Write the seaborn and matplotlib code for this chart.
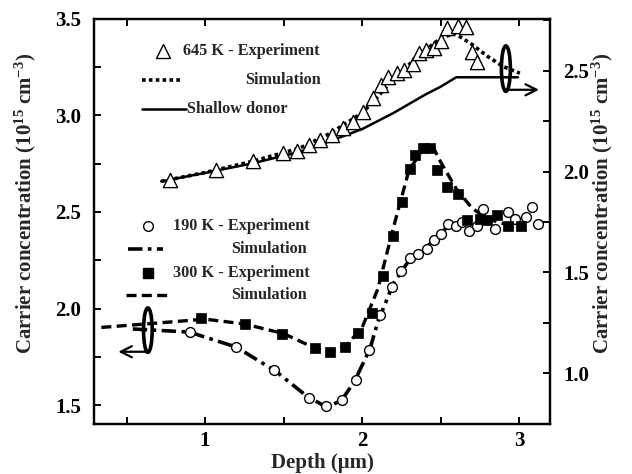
import numpy as np
import pandas as pd
import matplotlib
matplotlib.use("Agg")
import matplotlib.pyplot as plt
import seaborn as sns
from matplotlib.patches import Ellipse
from matplotlib.lines import Line2D
from matplotlib.ticker import MultipleLocator

# ---------------- data ----------------
# 645 K (right axis)
x645_exp = [0.776, 1.073, 1.303, 1.494, 1.583, 1.663, 1.731, 1.806, 1.876, 1.944,
            2.007, 2.067, 2.120, 2.166, 2.220, 2.266, 2.326, 2.364, 2.407, 2.459,
            2.500, 2.538, 2.612, 2.661, 2.698, 2.730]
y645_exp = [1.959, 2.008, 2.050, 2.094, 2.103, 2.129, 2.157, 2.182, 2.215, 2.247,
            2.297, 2.363, 2.429, 2.470, 2.487, 2.503, 2.532, 2.586, 2.602, 2.614,
            2.649, 2.710, 2.721, 2.718, 2.594, 2.545]
x645_sim = [0.72, 1.0, 1.3, 1.6, 1.8, 2.0, 2.1, 2.2, 2.3, 2.4, 2.5, 2.59, 2.7, 2.8, 2.9, 3.005]
y645_sim = [1.951, 1.995, 2.05, 2.115, 2.19, 2.29, 2.37, 2.46, 2.53, 2.60, 2.66, 2.685,
            2.63, 2.57, 2.52, 2.487]
x_shallow = [0.72, 1.0, 1.3, 1.6, 1.8, 2.0, 2.2, 2.4, 2.5, 2.6, 2.993]
y_shallow = [1.951, 1.993, 2.04, 2.097, 2.152, 2.21, 2.29, 2.38, 2.42, 2.467, 2.467]

# 190 K (left axis)
x190_exp = [0.903, 1.196, 1.439, 1.663, 1.770, 1.872, 1.964, 2.046, 2.115, 2.190,
            2.247, 2.305, 2.357, 2.411, 2.459, 2.506, 2.549, 2.598, 2.638, 2.682,
            2.730, 2.772, 2.846, 2.931, 2.973, 3.043, 3.080, 3.122]
y190_exp = [1.878, 1.800, 1.679, 1.535, 1.497, 1.526, 1.630, 1.783, 1.964, 2.110,
            2.192, 2.263, 2.283, 2.309, 2.353, 2.384, 2.436, 2.430, 2.448, 2.404,
            2.425, 2.517, 2.413, 2.500, 2.465, 2.473, 2.525, 2.439]
x190_sim = [0.54, 0.9, 1.2, 1.45, 1.65, 1.75, 1.8, 1.87, 1.95, 2.05, 2.1, 2.2, 2.3,
            2.4, 2.5, 2.56]
y190_sim = [1.894, 1.878, 1.80, 1.675, 1.545, 1.50, 1.497, 1.525, 1.62, 1.79, 1.93,
            2.13, 2.25, 2.31, 2.385, 2.44]

# 300 K (left axis)
x300_exp = [0.972, 1.255, 1.490, 1.702, 1.796, 1.893, 1.974, 2.061, 2.131, 2.194,
            2.252, 2.305, 2.337, 2.386, 2.432, 2.478, 2.538, 2.612, 2.666, 2.751,
            2.793, 2.857, 2.931, 3.010]
y300_exp = [1.953, 1.922, 1.870, 1.795, 1.774, 1.800, 1.873, 1.977, 2.167, 2.375,
            2.551, 2.725, 2.794, 2.829, 2.834, 2.720, 2.629, 2.591, 2.460, 2.462,
            2.456, 2.482, 2.425, 2.425]
x300_sim = [0.34, 0.7, 1.0, 1.25, 1.5, 1.7, 1.8, 1.9, 2.0, 2.1, 2.2, 2.3, 2.4, 2.45,
            2.5, 2.6, 2.7, 2.8, 2.9, 3.0]
y300_sim = [1.902, 1.925, 1.945, 1.92, 1.87, 1.795, 1.775, 1.81, 1.90, 2.10, 2.42,
            2.72, 2.835, 2.84, 2.76, 2.62, 2.52, 2.465, 2.44, 2.43]

xlabel = "Depth (\u03bcm)"
ylabel = "Carrier concentration (10$^{15}$ cm$^{-3}$)"

# ---------------- style ----------------
sns.set_style("ticks")
plt.rcParams["font.family"] = ["Liberation Serif", "DejaVu Serif"]
plt.rcParams["font.weight"] = "bold"
plt.rcParams["mathtext.fontset"] = "custom"
plt.rcParams["mathtext.rm"] = "Liberation Serif:bold"
plt.rcParams["mathtext.bf"] = "Liberation Serif:bold"
plt.rcParams["mathtext.it"] = "Liberation Serif:bold"
plt.rcParams["mathtext.default"] = "rm"

fig = plt.figure(figsize=(6.32, 4.74), dpi=100)
ax = fig.add_axes([0.148, 0.106, 0.723, 0.854])
ax2 = ax.twinx()

K = "black"
# left axis curves
sns.lineplot(x=x300_sim, y=y300_sim, ax=ax, color=K, lw=2.4, linestyle=(0, (3.0, 1.6)),
             sort=False, estimator=None)
sns.lineplot(x=x190_sim, y=y190_sim, ax=ax, color=K, lw=2.6,
             linestyle=(0, (4.0, 1.5, 1.0, 1.5)), sort=False, estimator=None)
sns.scatterplot(x=x190_exp, y=y190_exp, ax=ax, marker="o", s=50, facecolor="white",
                edgecolor=K, linewidth=1.0, zorder=3)
sns.scatterplot(x=x300_exp, y=y300_exp, ax=ax, marker="s", s=62, color=K,
                edgecolor=K, linewidth=0.5, zorder=3)

# right axis curves
sns.lineplot(x=x_shallow, y=y_shallow, ax=ax2, color=K, lw=1.8, sort=False, estimator=None)
sns.lineplot(x=x645_sim, y=y645_sim, ax=ax2, color=K, lw=2.6, linestyle=(0, (1.0, 0.9)),
             sort=False, estimator=None)
sns.scatterplot(x=x645_exp, y=y645_exp, ax=ax2, marker="^", s=105, facecolor="white",
                edgecolor=K, linewidth=1.0, zorder=3)

# axes limits / ticks
ax.set_xlim(0.29, 3.2)
ax.set_ylim(1.403, 3.5)
ax2.set_ylim(0.75, 2.756)
ax.xaxis.set_major_locator(MultipleLocator(1))
ax.xaxis.set_minor_locator(MultipleLocator(0.5))
ax.yaxis.set_major_locator(MultipleLocator(0.5))
ax.yaxis.set_minor_locator(MultipleLocator(0.25))
ax2.yaxis.set_major_locator(MultipleLocator(0.5))
ax2.yaxis.set_minor_locator(MultipleLocator(0.25))
ax.yaxis.set_major_formatter(matplotlib.ticker.FormatStrFormatter("%.1f"))
ax2.yaxis.set_major_formatter(matplotlib.ticker.FormatStrFormatter("%.1f"))

for a in (ax, ax2):
    for sp in a.spines.values():
        sp.set_visible(True)
        sp.set_linewidth(1.6)
        sp.set_color(K)
ax.tick_params(axis="x", which="both", direction="in", length=5, width=1.4,
               top=True, bottom=True, labelsize=15, pad=5, colors=K)
ax.tick_params(axis="y", which="both", direction="in", length=5, width=1.4,
               left=True, right=False, labelsize=15, pad=9, colors=K)
ax2.tick_params(axis="y", which="both", direction="in", length=5, width=1.4,
                right=True, left=False, labelsize=15, pad=9, colors=K)
for lab in ax.get_xticklabels() + ax.get_yticklabels() + ax2.get_yticklabels():
    lab.set_fontweight("bold")

ax.set_xlabel(xlabel, fontsize=15, fontweight="bold")
ax.set_ylabel(ylabel, fontsize=15, fontweight="bold")
ax2.set_ylabel(ylabel, fontsize=15, fontweight="bold", rotation=90)
ax.xaxis.set_label_coords(0.5, -0.097)
ax.xaxis.label.set_va("center")
ax.yaxis.set_label_coords(-0.150, 0.545)
ax2.yaxis.set_label_coords(1.114, 0.545)
ax2.yaxis.label.set_va("center")
ax.yaxis.label.set_va("center")

# ellipses and arrows
ax.add_patch(Ellipse((0.636, 1.888), 0.055, 0.230, fill=False, lw=2.6, ec=K, zorder=4))
ax.annotate("", xy=(0.43, 1.776), xytext=(0.642, 1.776),
            arrowprops=dict(arrowstyle="->", lw=1.6, color=K, mutation_scale=20))
ax2.add_patch(Ellipse((2.916, 2.51), 0.057, 0.225, fill=False, lw=2.6, ec=K, zorder=4))
ax2.annotate("", xy=(3.145, 2.405), xytext=(2.92, 2.405),
             arrowprops=dict(arrowstyle="->", lw=1.6, color=K, mutation_scale=20))

# custom legend built from text + sample marks (axes fraction coords)
tr = ax.transAxes
fs = 11.7
ax.add_line(Line2D([0.153], [0.922], transform=tr, marker="^", ms=10, mfc="white",
                   mec=K, mew=1.0, ls="none"))
ax.text(0.196, 0.922, "645 K - Experiment", transform=tr, fontsize=fs, va="center",
        fontweight="bold")
ax.add_line(Line2D([0.105, 0.193], [0.849, 0.849], transform=tr, color=K, lw=2.6,
                   ls=(0, (1.0, 0.9))))
ax.text(0.331, 0.849, "Simulation", transform=tr, fontsize=fs, va="center", fontweight="bold")
ax.add_line(Line2D([0.105, 0.202], [0.777, 0.777], transform=tr, color=K, lw=1.8))
ax.text(0.205, 0.777, "Shallow donor", transform=tr, fontsize=fs, va="center",
        fontweight="bold")

ax.add_line(Line2D([0.119], [0.488], transform=tr, marker="o", ms=7, mfc="white",
                   mec=K, mew=1.0, ls="none"))
ax.text(0.174, 0.488, "190 K - Experiment", transform=tr, fontsize=fs, va="center",
        fontweight="bold")
ax.add_line(Line2D([0.076, 0.152], [0.431, 0.431], transform=tr, color=K, lw=2.6,
                   ls=(0, (4.0, 1.5, 1.0, 1.5))))
ax.text(0.302, 0.431, "Simulation", transform=tr, fontsize=fs, va="center", fontweight="bold")
ax.add_line(Line2D([0.119], [0.373], transform=tr, marker="s", ms=7.8, mfc=K,
                   mec=K, ls="none"))
ax.text(0.174, 0.373, "300 K - Experiment", transform=tr, fontsize=fs, va="center",
        fontweight="bold")
ax.add_line(Line2D([0.072, 0.167], [0.318, 0.318], transform=tr, color=K, lw=2.4,
                   ls=(0, (3.0, 1.6))))
ax.text(0.302, 0.318, "Simulation", transform=tr, fontsize=fs, va="center", fontweight="bold")

fig.savefig("out.png", dpi=100)
